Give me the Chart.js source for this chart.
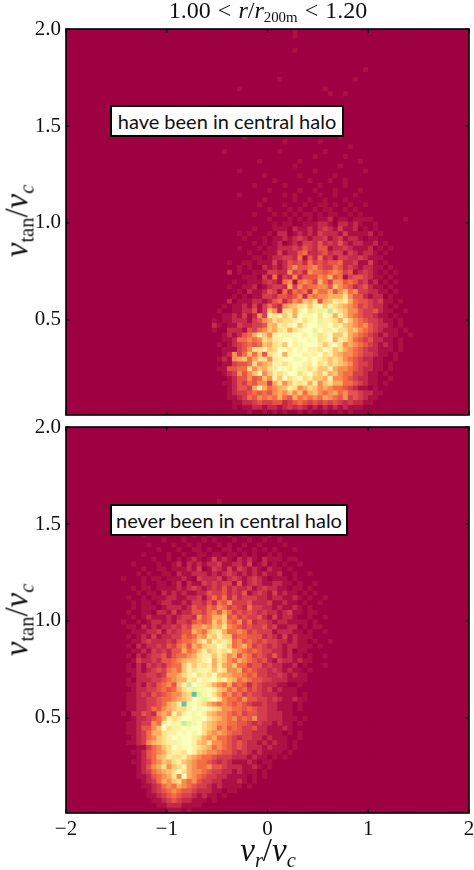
<!DOCTYPE html>
<html>
<head>
<meta charset="utf-8">
<script src="https://cdn.jsdelivr.net/npm/chart.js@4"></script>
<style>
html,body{margin:0;padding:0;background:#fff;width:474px;height:870px;overflow:hidden;}
canvas{position:absolute;left:0;}
#topwrap,#botwrap{position:absolute;left:0;width:500px;}
#topwrap{top:0;height:440px;}
#botwrap{top:400px;height:470px;}
.lbl{position:absolute;font-family:"Liberation Serif",serif;color:#111;white-space:nowrap;}
.lbl i{font-style:italic;}
.lbl sub{font-size:62%;line-height:0;vertical-align:-0.3em;}
.box{position:absolute;background:#fff;border:2px solid #000;box-sizing:border-box;font-family:Lato,sans-serif;font-size:20px;color:#111;text-align:center;white-space:nowrap;}
.rot{transform:translate(-50%,-50%) rotate(-90deg);}
</style>
</head>
<body>
<div id="topwrap"><canvas id="top-chart"></canvas></div>
<div id="botwrap"><canvas id="bot-chart"></canvas></div>
<div class="lbl" style="left:268px;top:-3px;font-size:24px;transform:translateX(-50%);word-spacing:1px;"><span>1.00 &lt; <i>r</i>/<i>r</i><sub>200m</sub> &lt; 1.20</span></div>
<div class="box" style="left:110px;top:105px;width:234px;height:32px;line-height:28px;">have been in central halo</div>
<div class="box" style="left:110px;top:504px;width:238px;height:32px;line-height:28px;">never been in central halo</div>
<div class="lbl rot" style="left:17px;top:221px;font-size:33px;"><i>v</i><sub>tan</sub>/<i>v</i><sub><i>c</i></sub></div>
<div class="lbl rot" style="left:17px;top:620px;font-size:33px;"><i>v</i><sub>tan</sub>/<i>v</i><sub><i>c</i></sub></div>
<div class="lbl" style="left:268px;top:832px;font-size:33px;transform:translateX(-50%);"><i>v</i><sub><i>r</i></sub>/<i>v</i><sub><i>c</i></sub></div>
<script>
const xTickValues=[-2,-1,0,1,2];
const yTickValues=[0.5,1,1.5,2];
const xRange=[-2,2];
const yRange=[0.01,2];
const binCount=80;

// spectral levels, one char per bin in the rows below (base 17)
const levelColors=["#9e0142","#ad1045","#c42a4b","#d53e4f","#e55649","#f46d43","#f98e52","#fdae61","#fec574","#fee08b","#fef0a5","#ffffbf","#f3faab","#e6f598","#c8e99e","#abdda4","#66c2a5"];

// rows go from the top of the panel down, first char is column 26
const topCol=26;
const topRows=[
"0000000000000000000100000000000000000000000000",
"0000000000000000000100000000000000000000000000",
"","",
"0000000000000000000100000000000000000000000000",
"","","",
"0000000000000000000000000000000001000000000000",
"0000000000000000000000000000000000000000000000",
"0000000000000000100000000000000100000000000000",
"",
"0000000010000000000000000100000000000000000000",
"0000000000000000000000000010010000000000000000",
"","","","",
"00000000000000000000001000000000000000000000",
"00000000000000000100000000000000000000000000",
"00000000000000010000000000010000000000000000",
"00000000000000000000100000000000000000000000",
"00000000010000000000000000001000000000000000",
"00000000000000000100000010000000000000000000",
"00000000000000000000000000000010000000000000",
"00000100000000001000000001000000000000000000",
"00000000000000000000000100000100000000000000",
"00000000000010000000100000000000100000000000",
"00000000000000000001000000001000000000000000",
"00000000100000000000000100000000010000000000",
"00000000000001000000100000010000000000000000",
"00000000000000010000001000100100000000000000",
"00000000000100000100000010000100000000000000",
"00000000000000100000100100010000100000000000",
"00000000100000000101000010010001000000000000",
"00000000000001000001001001000100000000000000",
"00000000000010000100010011010010010000000000",
"00000000000000100010100101100101000000000000",
"00000000000100010101011010110010100000000000",
"00000000000000100010101011201101111000000100",
"00000000000000010110011122102212100100000000",
"00000000000100011102112123213112010100000000",
"00000000101000102201212132221311112010000000",
"00000000010001011212321223123122101100000000",
"00000000000101012012133242324212211201000000",
"00000000100010112223243244122321112010100000",
"00000000001001113122452234233132122101000000",
"00000000000110122332514252313322321110000000",
"00000010011011131243425343445223113101000000",
"00000000101002121246445643354232122110100000",
"000000201001113322634265545653412321010100",
"000000000111031513262444657451344321101000",
"000000010011123215615653753664542312010100",
"000000100112012332736455664865423421101000",
"000000001021124315254527557468563322110100",
"000000010101133244346265667779644212201000",
"000000201112212452465879478a9a7544323110100",
"000001011213135326789a8ac8a987653432210100",
"00001001122413862997ab9adcea98664334211001",
"00000112131263a9a8a7bccb9ba7a8654332110100",
"0001011222134679899ab9cbdaa97a8654332110100",
"0002101132233487a9ab8abbaab9a87656432210100",
"00010022214356879a79abbdbaab99786543211101000",
"000001212457a86abacbbabc9ab88a76543212110010",
"000001125565698aabbcbbcb9ab7a9754342211010",
"0000101234545879a8bacbbba8ab967654321210100",
"0000011134699a89bbabcbaa9ba8976543221110100",
"000001263585849ab7cbbacab9a87665433211010",
"00001216785799 6aabbccbaba9898654322110010".replace(" ",""),
"000001134459678aa9cbbaab9a898764332110100",
"0000114455968 79abbabca9a88a76654322110100".replace(" ",""),
"000001236468a68a9abb9ab98a7865533211010",
"000000124464586a8b9ab9a887a6654322110010",
"0000011243546637968a9a7a6897755432110100",
"000000124437a75678a967986765543211010",
"00000012334545467686857865675644322110",
"0000001123546565754756565765463432110",
"0000000112234334423454343434323221100",
"0000000101122122123232121212121110000",
"00000000001001010100101001001010000"
];

// same for the lower panel, first char is column 8, first row is row 15
const botCol=8;
const botFirstRow=15;
const botRows=[
"0000000000000000000000100000000000000000000000000000",
"",
"0000000000000010000000000100000000010000000000000000",
"",
"0000000000100000000100010000001000000000000000000000",
"0000000000000001000001000010000000100000000000000000",
"0000000000000100000100010000100100000000000000000000",
"0000000100000000010010001001000010000000000000000000",
"0000000000010001000101000100100100100000000000000000",
"0000000010000100101000101001001000010000000000000000",
"0000000000100010011010011010010101000100000000000000",
"0000000100001001001101101101010010100000000000000000",
"0000000001001010121013121021210211101100000000000000",
"0000010000100120212122311221301201010010000000000000",
"0000000100110111213013213132121021101000000000000000",
"0000001010011021122212123212121211200100100000000000",
"0001000101101112103222312321232101110100000000000000",
"0000000100110120211323233141232112211010010000000000",
"0000010110111121232123242322312322110110100000000000",
"0000001011021212112243342324123213121101010000000000",
"0000100101112211223135352423332212211210100100000000",
"0000010110122112133242546333422231121101001000000000",
"0000010111012221243354653432533221211210100000000000",
"0000100110221312244356475343432322123110110000000000",
"0000010121112123326457784534334213122100100100000000",
"0001001012212133245458685463523321221111010000000000",
"0000110212122324366768796543433423112201011000000000",
"0000011122313234476589a75565343331222110100100000000",
"0000101213122335457698a8845544423213121110000000000",
"0000011232223245568a7a9a956454343322121101001000000",
"0000102122324356476899ba856753432321221110100000000",
"0000011213232447568a89a9a7654543322120110000000000",
"0000102123342455679aa8a86746534324212110100100000",
"0000013223244567889ab7986576543421322121100000000",
"0000102132324558a8a9a7a76855344232211201000100000",
"0000112123435658a9aca8a96674543323212110100000000",
"0000012233236679ab9a9b877665453322321211000000000",
"0000102223345677a9bacb9a87565443322211110000000000",
"000011213245648aebca976574542432221100100000000",
"0000012233454579adccba87564534323121110000000",
"00001123243456689gdcb975645343322211110100000",
"00001122334556789bcdcb965546443323211211000000",
"00001122334578agcba9765654543223221110100000",
"0000112235467899abcba9866554543322111010000",
"0001022432676a8abcba87665453443322211000000",
"000001223457a9abbccb98765645463322211101000",
"00001123365abacedcb987665544323221211010000",
"00001124468b9aabcbb987564543342211121000",
"000011235779aabcbcb976765443322211101010",
"000001235689abcbba97675543233221211100100",
"000011236789aacbba8796654343221212110100",
"0000001135689babba98756543432221211101000",
"0000011245679aa9ba876654432321211110100",
"000000124578a99a8765543332221211010100",
"00000112356879a8765543232111210110000",
"000000124679689a765564432221121010000",
"00000012356789b9766543322121110100000",
"000000112456796b765433221111010100000",
"0000000123576896564332211121010000000",
"0000000112356576543321211110100000000",
"00000000123456544322211011000000000",
"00000000112345433212110100000000000",
"00000000011234322111010000000000000",
"00000000001122211110000000000000000",
"00000000000011101000000000000000000"
];

function buildCells(rows,firstCol,firstRow){
    const cells=[];
    const colors=[];
    const dx=(xRange[1]-xRange[0])/binCount;
    const dy=(yRange[1]-yRange[0])/binCount;
    for(let r=0;r<binCount;r++){
        const row=rows[r-firstRow]||"";
        for(let c=0;c<binCount;c++){
            const ch=row[c-firstCol];
            const level=ch?parseInt(ch,17):0;
            cells.push({x:xRange[0]+dx*(c+0.5),y:yRange[1]-dy*(r+0.5)});
            colors.push(levelColors[level]);
        }
    }
    return {cells,colors};
}

// matplotlib style: frame on all four sides, ticks pointing inwards
const frameTicks={
    id:'frameTicks',
    beforeDatasetsDraw(chart){
        const {ctx,chartArea:a}=chart;
        ctx.save();
        ctx.fillStyle=levelColors[0];
        ctx.fillRect(a.left,a.top,a.right-a.left,a.bottom-a.top);
        ctx.restore();
    },
    afterDatasetsDraw(chart){
        const {ctx,chartArea:a,scales}=chart;
        ctx.save();
        ctx.strokeStyle='#000';
        ctx.lineWidth=1;
        xTickValues.forEach(v=>{
            const px=scales.x.getPixelForValue(v);
            ctx.beginPath();
            ctx.moveTo(px,a.bottom);ctx.lineTo(px,a.bottom-4);
            ctx.moveTo(px,a.top);ctx.lineTo(px,a.top+4);
            ctx.stroke();
        });
        yTickValues.forEach(v=>{
            const py=scales.y.getPixelForValue(v);
            ctx.beginPath();
            ctx.moveTo(a.left,py);ctx.lineTo(a.left+4,py);
            ctx.moveTo(a.right,py);ctx.lineTo(a.right-4,py);
            ctx.stroke();
        });
        ctx.lineWidth=1.6;
        ctx.strokeRect(a.left,a.top,a.right-a.left,a.bottom-a.top);
        ctx.restore();
    }
};

function makePanel(id,rows,firstCol,firstRow,opts){
    const {cells,colors}=buildCells(rows,firstCol,firstRow);
    return new Chart(document.getElementById(id),{
        type:'scatter',
        data:{datasets:[{data:cells,backgroundColor:colors,borderWidth:0,pointStyle:'rect',pointRadius:4,pointHoverRadius:4}]},
        options:{
            responsive:true,
            maintainAspectRatio:false,
            animation:false,
            events:[],
            layout:{padding:opts.padding},
            plugins:{legend:{display:false},tooltip:{enabled:false}},
            scales:{
                x:{
                    type:'linear',min:xRange[0],max:xRange[1],
                    afterBuildTicks:s=>{s.ticks=xTickValues.map(v=>({value:v}));},
                    afterFit:s=>{s.height=opts.xHeight;},
                    grid:{display:false,tickLength:0},border:{display:false},
                    ticks:{display:opts.showX,maxRotation:0,autoSkip:false,padding:4,color:'#111',font:{family:'"Liberation Serif"',size:21},
                        callback:v=>String(v).replace('-','\u2212')}
                },
                y:{
                    type:'linear',min:yRange[0],max:yRange[1],
                    afterBuildTicks:s=>{s.ticks=yTickValues.map(v=>({value:v}));},
                    afterFit:s=>{s.width=66;},
                    grid:{display:false,tickLength:0},border:{display:false},
                    ticks:{autoSkip:false,padding:5,color:'#111',font:{family:'"Liberation Serif"',size:21},
                        callback:v=>v.toFixed(1)}
                }
            }
        },
        plugins:[frameTicks]
    });
}

makePanel('top-chart',topRows,topCol,0,{padding:{top:29,right:31,bottom:25,left:0},xHeight:0,showX:false});
makePanel('bot-chart',botRows,botCol,botFirstRow,{padding:{top:27,right:31,bottom:0,left:0},xHeight:57,showX:true});
</script>
</body>
</html>
